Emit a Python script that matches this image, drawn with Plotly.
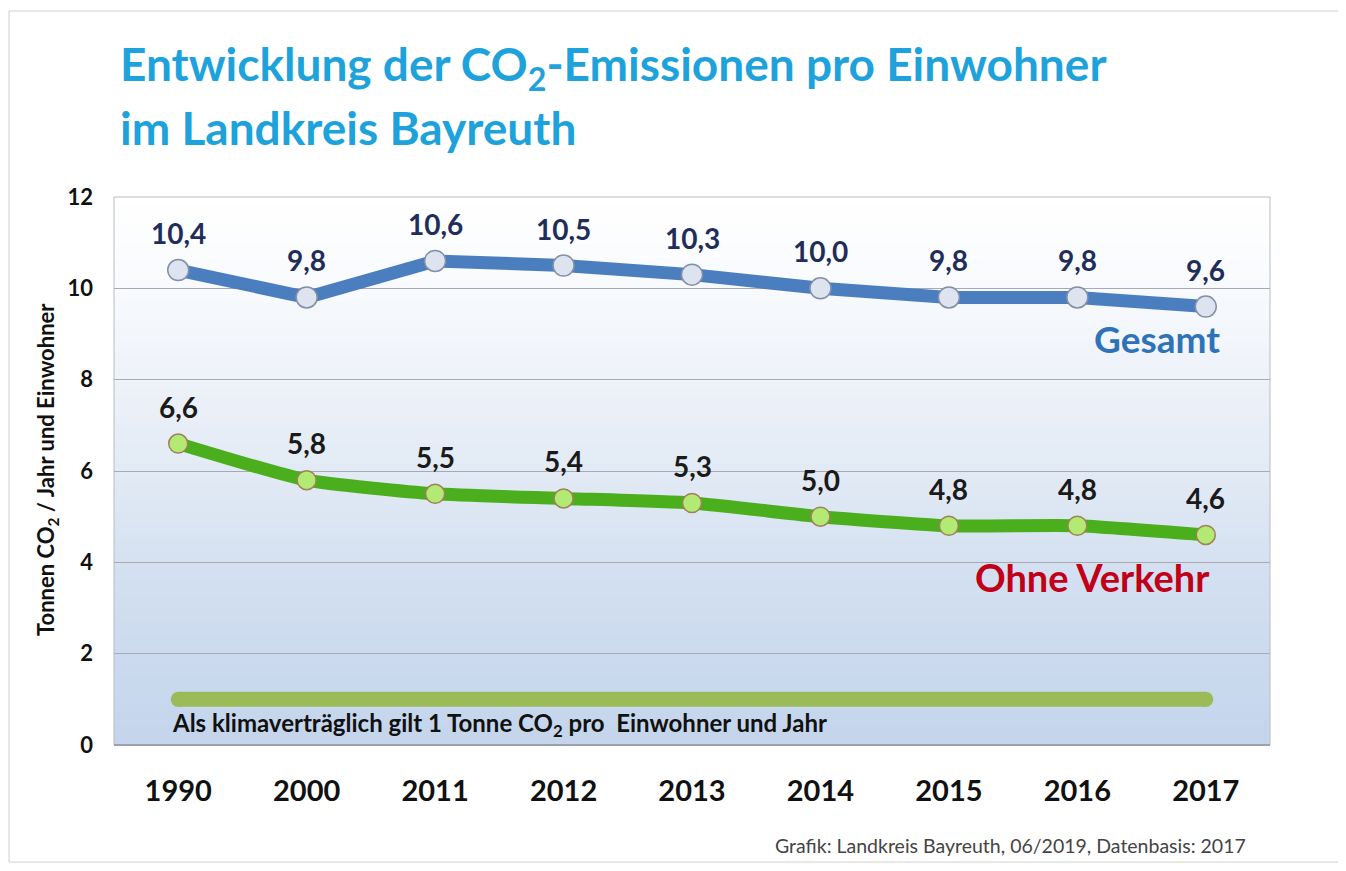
import plotly.graph_objects as go

# data
years = ["1990", "2000", "2011", "2012", "2013", "2014", "2015", "2016", "2017"]
gesamt = [10.4, 9.8, 10.6, 10.5, 10.3, 10.0, 9.8, 9.8, 9.6]
ohne_verkehr = [6.6, 5.8, 5.5, 5.4, 5.3, 5.0, 4.8, 4.8, 4.6]
gesamt_labels = ["10,4", "9,8", "10,6", "10,5", "10,3", "10,0", "9,8", "9,8", "9,6"]
ohne_labels = ["6,6", "5,8", "5,5", "5,4", "5,3", "5,0", "4,8", "4,8", "4,6"]
ziel = 1.0  # klimavertraeglich: 1 t pro Einwohner und Jahr

OFF = 8  # page body margin
W, H = 1346 - OFF, 871 - OFF
L, R, T, B = 114, 1270, 197, 745  # plot area in page pixels
FONT = "Lato"


def px(x):
    return (x - L) / (R - L)


def py(y):
    return (B - y) / (B - T)


fig = go.Figure()

# target band (rounded ends via markers)
fig.add_trace(go.Scatter(
    x=[years[0], years[-1]], y=[ziel, ziel],
    mode="lines+markers",
    line=dict(color="#9bbb59", width=15),
    marker=dict(color="#9bbb59", size=15),
    hoverinfo="skip", showlegend=False,
))

fig.add_trace(go.Scatter(
    x=years, y=gesamt, name="Gesamt",
    mode="lines+markers",
    line=dict(color="#4a7ebf", width=13),
    marker=dict(size=21, color="#dde4f0", line=dict(color="#8590a8", width=1.5)),
    showlegend=False,
))

fig.add_trace(go.Scatter(
    x=years, y=ohne_verkehr, name="Ohne Verkehr",
    mode="lines+markers",
    line=dict(color="#4bae1c", width=13, shape="spline", smoothing=0.5),
    marker=dict(size=19, color="#b2ea74", line=dict(color="#a0805a", width=1.5)),
    showlegend=False,
))

annotations = []
for i, (y, t) in enumerate(zip(gesamt, gesamt_labels)):
    annotations.append(dict(x=i, y=y, text="<b>" + t + "</b>", showarrow=False, yshift=37,
                            font=dict(family=FONT, size=28, color="#1f2d5a")))
for i, (y, t) in enumerate(zip(ohne_verkehr, ohne_labels)):
    annotations.append(dict(x=i, y=y, text="<b>" + t + "</b>", showarrow=False, yshift=37,
                            font=dict(family=FONT, size=28, color="#1a1a1a")))

annotations += [
    dict(xref="paper", yref="paper", x=px(118), y=py(67), xanchor="left", yanchor="middle",
         text="<b>Entwicklung der CO<sub>2</sub>-Emissionen pro Einwohner</b>", showarrow=False,
         font=dict(family=FONT, size=46, color="#1ea2dc")),
    dict(xref="paper", yref="paper", x=px(118), y=py(127), xanchor="left", yanchor="middle",
         text="<b>im Landkreis Bayreuth</b>", showarrow=False,
         font=dict(family=FONT, size=46, color="#1ea2dc")),
    dict(xref="paper", yref="paper", x=px(1222), y=py(338), xanchor="right", yanchor="middle",
         text="<b>Gesamt</b>", showarrow=False, font=dict(family=FONT, size=37, color="#2e73b8")),
    dict(xref="paper", yref="paper", x=px(1212), y=py(577), xanchor="right", yanchor="middle",
         text="<b>Ohne Verkehr</b>", showarrow=False, font=dict(family=FONT, size=38, color="#c00018")),
    dict(xref="paper", yref="paper", x=px(170), y=py(724), xanchor="left", yanchor="middle",
         text="<b>Als klimaverträglich gilt 1 Tonne CO<sub>2</sub> pro  Einwohner und Jahr</b>",
         showarrow=False, font=dict(family=FONT, size=24, color="#111111")),
    dict(xref="paper", yref="paper", x=px(1248), y=py(845), xanchor="right", yanchor="middle",
         text="Grafik: Landkreis Bayreuth, 06/2019, Datenbasis: 2017", showarrow=False,
         font=dict(family=FONT, size=19.5, color="#444444")),
    dict(xref="paper", yref="paper", x=px(47), y=py(470), xanchor="center", yanchor="middle",
         textangle=-90, text="<b>Tonnen CO<sub>2</sub> / Jahr und Einwohner</b>", showarrow=False,
         font=dict(family=FONT, size=22, color="#111111")),
]

# background gradient of the plot area: white at top, light blue at bottom
stops = [(0, (196, 213, 236)), (2, (203, 218, 238)), (4, (213, 225, 241)),
         (6, (226, 234, 245)), (8, (238, 242, 249)), (10, (248, 250, 253)), (12, (255, 255, 255))]


def grad(v):
    for (a, ca), (b, cb) in zip(stops[:-1], stops[1:]):
        if a <= v <= b:
            f = (v - a) / (b - a)
            return "rgb(%d,%d,%d)" % tuple(round(ca[i] + (cb[i] - ca[i]) * f) for i in range(3))
    return "rgb(255,255,255)"


shapes = []
n = 80
for i in range(n, 0, -1):
    top = 12 * i / n
    shapes.append(dict(type="rect", xref="paper", yref="y", x0=0, x1=1, y0=0, y1=top,
                       fillcolor=grad(top - 6 / n), line=dict(width=0), layer="below"))
shapes.append(dict(type="rect", xref="paper", yref="paper", x0=0, x1=1, y0=0, y1=1,
                   line=dict(color="#b8bcc4", width=1), layer="below"))
# outer frame
shapes.append(dict(type="rect", xref="paper", yref="paper", x0=px(9), x1=px(1340), y0=py(862), y1=py(11),
                   line=dict(color="#d0d0d0", width=1), layer="below"))

fig.update_layout(
    width=W, height=H,
    margin=dict(l=L - OFF, r=1346 - R, t=T - OFF, b=871 - B),
    paper_bgcolor="white", plot_bgcolor="rgba(0,0,0,0)",
    annotations=annotations, shapes=shapes,
)
fig.update_xaxes(
    type="category", categoryorder="array", categoryarray=years,
    range=[-0.5, 8.5], showgrid=False, zeroline=False,
    ticks="", ticklabelstandoff=26,
    tickfont=dict(family=FONT, size=29, color="#111111", weight="bold"),
)
fig.update_yaxes(
    range=[0, 12], dtick=2, showgrid=True, gridcolor="#a7aab2", gridwidth=1,
    zeroline=True, zerolinecolor="#9da3ae", zerolinewidth=2,
    ticks="", ticklabelstandoff=20,
    tickfont=dict(family=FONT, size=22, color="#111111", weight="bold"),
)

fig.write_html("out.html")
